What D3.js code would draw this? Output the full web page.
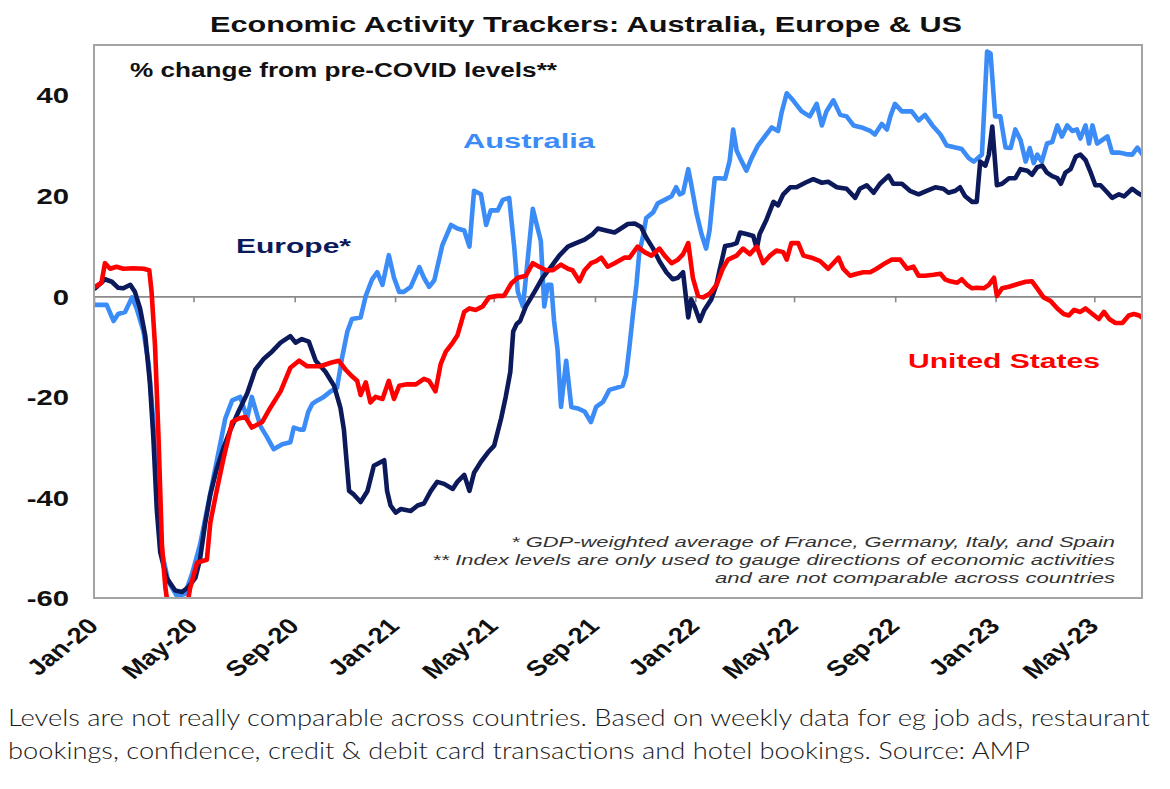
<!DOCTYPE html>
<html><head><meta charset="utf-8">
<script src="https://cdn.jsdelivr.net/npm/d3@7"></script>
<style>html,body{margin:0;padding:0;background:#fff;} svg{display:block;}</style>
</head><body>
<svg id="chart" width="1170" height="789"></svg>
<script>
// ---- DATA: [weeks since 1 Jan 2020, % change from pre-COVID level] ----
const australia = [[0.2,-1.7],[2.2,-1.7],[3.4,-4.9],[4.2,-3.5],[5.4,-3.1],[6.6,-0.2],[7.4,-2.4],[8.6,-7],[9.5,-13.5],[10.3,-25],[10.9,-38.7],[11.8,-50.9],[12.9,-56.7],[14.4,-59.6],[15.8,-59.2],[17,-55.3],[18.4,-49.5],[19.9,-40.9],[21.3,-32.9],[22.8,-24.3],[24,-20.7],[25.4,-20],[26.6,-24.3],[27.4,-20],[28.9,-25.8],[30,-27.9],[31.2,-30.4],[32.7,-29.4],[34.1,-29],[34.7,-26.1],[35.8,-26.5],[36.4,-26.5],[37.2,-23],[37.9,-21.4],[38.8,-20.7],[39.9,-20],[41.1,-18.9],[42.2,-18.2],[43.1,-12.1],[44,-7],[44.8,-4.5],[46.3,-4.2],[47.2,0.1],[48.3,3.4],[49.2,4.8],[50.1,2.3],[51.2,8.2],[52.1,3.7],[53,0.9],[53.8,0.9],[55,1.9],[56.5,5.8],[57.3,3.7],[58.2,1.9],[59.1,3.2],[60.5,10.2],[62,14.2],[63.1,13.5],[64.3,13.1],[65.2,9.9],[66,21],[67.2,20.3],[68.1,14.2],[68.9,17.1],[70.1,17.1],[71,19.2],[72.1,19.6],[73,9.5],[73.6,0.9],[74.5,-2],[76.2,17.4],[77.6,11],[78.2,-2],[78.8,2.3],[79.4,2.3],[79.9,-4.9],[80.5,-10.6],[81.1,-22],[82,-12.8],[82.9,-22],[84,-22.3],[85.2,-22.9],[86.3,-25],[87.2,-22],[88.4,-21],[89.5,-18.6],[90.7,-18.2],[91.8,-17.8],[92.4,-15.7],[93,-9.9],[93.6,-3.5],[94.2,2.3],[94.7,8.8],[95.3,11.7],[95.9,15.6],[97.1,16.7],[97.9,18.5],[99.1,19.2],[100.3,19.9],[101.1,21.7],[101.7,20.3],[102.3,20.6],[103.2,25.3],[103.7,22.4],[104.6,16.7],[105.5,12.4],[106.3,9.5],[106.9,13.1],[107.8,23.5],[108.7,23.5],[109.6,23.4],[110.4,27],[111,33.2],[111.6,29],[112.2,27.5],[113.3,25],[114.2,27.5],[115.3,30],[116.5,31.8],[117.7,33.6],[118.8,32.9],[119.4,36.5],[120.3,40.4],[121.4,39],[122.9,36.8],[124.3,35.8],[125.5,38.3],[126.4,34],[127.2,36.8],[128.4,39],[129.6,36.1],[130.7,35.8],[131.9,34],[133.3,33.6],[134.8,32.9],[135.6,32.2],[136.8,34.3],[137.7,33.2],[138.3,35.8],[139.1,38.3],[140.3,36.8],[142,36.8],[143.2,35],[144.3,36.1],[145.6,34],[147,32.2],[148.1,30],[149.6,29.6],[150.7,29.3],[151.9,27.5],[152.8,26.8],[154.2,28.2],[155.1,48.7],[155.7,48.3],[156.5,35.8],[157.4,35.8],[158.3,29.6],[159.2,29.5],[160,33.2],[160.9,31.1],[161.8,26.8],[162.5,29.5],[163.2,26.5],[163.8,28.2],[164.6,26.8],[165.5,30.4],[166.4,30.7],[167.3,34],[168.1,31.8],[169,34],[169.9,32.9],[170.7,33.2],[171.3,31.4],[172.2,34],[172.8,30.4],[173.4,34],[174.2,30.4],[175.1,31.1],[176,31.8],[176.8,28.6],[178,28.6],[179.2,28.3],[180.3,28.2],[181.2,29.6],[182.1,28.2]];

const europe = [[0.2,1.6],[1.9,3.4],[3.1,2.9],[4.2,1.7],[5.1,1.6],[6.3,2.3],[7.1,0.9],[8,-2.4],[8.9,-7.8],[9.7,-17.1],[10.3,-27.9],[10.9,-42.3],[11.5,-50.9],[12.6,-56],[14.1,-58.5],[15.3,-58.8],[16.4,-57.8],[17.6,-56],[18.4,-52.4],[19.3,-45.2],[20.2,-39.4],[21.3,-34.4],[22.5,-30.1],[23.7,-26.5],[25.1,-22.9],[26.6,-19.3],[28,-14.6],[29.5,-12.4],[30.9,-11],[32.4,-9.2],[34.1,-7.9],[35,-9.2],[36.1,-8.5],[37.3,-9],[38.5,-12.8],[40.2,-15],[41.7,-17.8],[42.8,-22.2],[43.4,-26.5],[44.3,-38.7],[45.1,-39.4],[46.3,-40.9],[47.5,-38.7],[48.6,-33.7],[50.4,-32.6],[50.9,-38.7],[51.5,-41.6],[52.4,-43],[53.3,-42.3],[55,-42.7],[56.2,-41.6],[57.3,-41.2],[58.5,-38.7],[59.6,-36.9],[60.8,-37.3],[62.3,-38.3],[63.1,-36.9],[64.3,-35.5],[65.2,-38.7],[66,-35.1],[67.2,-32.9],[68.6,-30.8],[69.5,-29.7],[70.7,-24.3],[71.5,-20],[72.3,-15],[72.8,-7],[73.4,-5.5],[74,-4.9],[75,-2],[76.5,0.9],[77.9,3.7],[79.4,5.9],[80.8,8.1],[82.3,9.9],[83.7,10.6],[85.2,11.3],[86.6,12.4],[87.5,13.5],[88.9,13.1],[90.4,12.7],[91.5,13.5],[92.7,14.4],[93.9,14.5],[95,13.8],[95.9,11.7],[97.1,9.5],[98.2,7],[99.4,4.8],[100.5,3.4],[101.4,3.7],[102.3,4.8],[103.2,-4.2],[103.7,-0.6],[104.3,-2],[105.2,-4.9],[106,-2.7],[107.2,-0.6],[108.1,2.3],[108.6,5],[109.6,10],[110.6,10.2],[111.6,10.6],[112.2,12.7],[113.3,12.4],[114.5,12],[115.1,9.5],[115.6,12.4],[116.8,15.3],[118,18.8],[118.8,18.1],[119.7,20.3],[120.9,21.7],[122,21.7],[123.5,22.6],[124.9,23.3],[126.4,22.6],[127.5,22.8],[129,21.7],[130.7,21.4],[132.2,19.6],[133,21.4],[134.2,22.1],[135.4,20.6],[136.5,22.4],[138,24],[138.8,22.4],[140.3,22.4],[141.7,21],[143.2,20.3],[144.6,21],[146.1,21.7],[147.5,21.4],[148.4,20.6],[149.6,21],[150.4,21.7],[151.3,19.9],[152.5,18.8],[153.3,18.8],[153.9,26.8],[154.8,26],[155.4,28.2],[156,33.8],[156.8,22.1],[157.7,22.4],[158.9,23.5],[160,23.5],[160.9,25.3],[162.1,25],[162.9,24.2],[163.8,25.7],[164.7,26],[165.5,24.6],[166.4,23.9],[167.3,23.5],[167.9,22.4],[168.7,24.6],[169.6,25.3],[170.5,27.8],[171.3,28.2],[172.2,27.1],[173.1,24.6],[173.9,22.1],[174.8,22.1],[175.7,21],[176.8,19.6],[178,20.3],[178.9,19.9],[180.3,21.4],[181.2,20.6],[182.1,20]];

const unitedStates = [[0.2,1.9],[1.3,2.7],[1.9,6.6],[2.8,5.5],[3.9,5.9],[5.1,5.5],[6.8,5.6],[8.6,5.5],[9.6,5.2],[10,0.9],[10.6,-9.9],[11.2,-27.9],[11.8,-49.5],[12.4,-58],[12.9,-62],[16.1,-62],[16.7,-58],[17.9,-53],[18.7,-52.7],[19.6,-52.4],[20.2,-45],[21.3,-38.7],[22.5,-32.2],[24,-25],[25.1,-24.3],[26.3,-24],[27.4,-26.1],[29.2,-25],[30.6,-22.2],[32.4,-18.9],[34.1,-14.2],[35.6,-12.8],[37,-13.9],[39.3,-13.9],[41.1,-13.2],[42.5,-12.8],[43.7,-14.6],[44.9,-16],[45.7,-16.8],[46.3,-19.6],[47.2,-17.1],[48,-21.1],[48.9,-20],[50.1,-20.4],[51.2,-16.8],[52.1,-20.4],[53,-17.8],[54.4,-17.5],[55.9,-17.5],[57.3,-16.4],[58.2,-16.8],[59.3,-18.9],[60.2,-13.5],[61.1,-11],[62.3,-9.2],[63.1,-7.8],[64.3,-3.1],[65.2,-2.4],[66.3,-2.7],[67.5,-2],[68.6,-0.2],[70.1,0.1],[71.2,0.1],[72.5,2.6],[73.6,3.7],[75,4.1],[76.2,6.6],[77.3,5.9],[78.5,5.2],[79.7,5.2],[81.1,6.3],[82.3,5.5],[83.1,5.2],[84.3,3],[85.2,5.2],[86.3,6.6],[87.2,7],[88.1,7.7],[89.2,5.9],[90.4,6.6],[92.1,7.7],[93,7.7],[94.4,9.9],[95.6,8.8],[96.8,8.1],[98.2,9.5],[99.1,8.1],[100.3,6.6],[101.4,7.3],[102.3,8.4],[103.2,10.6],[104,3.7],[104.9,0.1],[105.8,-0.2],[106.9,0.5],[108.1,2.3],[109.2,5.5],[110.1,7.3],[111.6,8.1],[112.7,9.5],[113.9,8.4],[115.1,9.9],[116.2,6.6],[117.4,8.1],[118.5,9.1],[119.7,8.8],[120.3,7.3],[121.1,10.6],[122.3,10.6],[123.2,8.1],[124.6,7.7],[126.1,7],[127.5,5.5],[129.3,7.7],[130.1,5.5],[131.3,4.1],[132.5,4.5],[133.6,4.8],[134.8,4.8],[135.9,5.5],[137.4,6.6],[138.5,7.3],[140,7.3],[141.2,5.5],[142.3,5.9],[143.2,4.1],[144.3,4.1],[145.8,4.3],[147,4.5],[147.8,3.4],[148.7,3],[149.9,2.7],[150.7,3.4],[151.6,2.3],[152.5,1.6],[153.3,1.7],[154.5,1.6],[155.4,2.3],[156.3,3.7],[156.8,0.1],[157.7,1.6],[158.9,1.9],[160.3,2.4],[161.8,2.9],[162.9,3],[163.8,1.6],[164.9,-0.2],[166.1,-0.9],[167.3,-2.4],[168.4,-3.5],[169.3,-3.8],[170.2,-2.7],[171.3,-3.1],[172.2,-2.4],[173.4,-3.5],[174.5,-4.5],[175.4,-3.1],[176.3,-4.5],[177.4,-5.3],[178.6,-5.3],[179.7,-3.8],[180.6,-3.5],[181.5,-3.8],[182.1,-4.3]];

const yTickValues = [-60, -40, -20, 0, 20, 40];
const xTickLabels = ["Jan-20","May-20","Sep-20","Jan-21","May-21","Sep-21","Jan-22","May-22","Sep-22","Jan-23","May-23"];
const titleText = "Economic Activity Trackers: Australia, Europe & US";
const subtitleText = "% change from pre-COVID levels**";
const footnotes = ["* GDP-weighted average of France, Germany, Italy, and Spain",
                   "** Index levels are only used to gauge directions of economic activities",
                   "and are not comparable across countries"];
const captionLines = ["Levels are not really comparable across countries. Based on weekly data for eg job ads, restaurant",
                      "bookings, confidence, credit & debit card transactions and hotel bookings. Source: AMP"];

// ---- CHART ----
const svg = d3.select("#chart");
const P = {left: 94, right: 1142, top: 45, bottom: 598};
const FONT = "'Liberation Sans', Arial, sans-serif";
const start = new Date(2020, 0, 1);
const weekToDate = w => new Date(start.getTime() + w * 7 * 864e5);
const x = d3.scaleTime().domain([start, new Date(2023, 5, 28)]).range([P.left, P.right]);
const y = d3.scaleLinear().domain([-60, 50]).range([P.bottom, P.top]);
const xTickDates = xTickLabels.map(d3.timeParse("%b-%y"));

svg.append("rect").attr("width", 1170).attr("height", 789).attr("fill", "#fff");

svg.append("defs").append("clipPath").attr("id", "plotclip")
  .append("rect").attr("x", P.left).attr("y", P.top)
  .attr("width", P.right - P.left).attr("height", P.bottom - P.top);

// zero axis with ticks
const gx = svg.append("g").attr("transform", `translate(0,${y(0)})`)
  .call(d3.axisBottom(x).tickValues(xTickDates).tickSize(6).tickSizeOuter(0).tickFormat(""));
gx.select(".domain").attr("stroke", "#8a8a8a").attr("stroke-width", 1.6);
gx.selectAll(".tick line").attr("stroke", "#8a8a8a").attr("stroke-width", 1.6);

// x labels (rotated)
svg.append("g").selectAll("text").data(xTickDates).join("text")
  .attr("transform", d => `translate(${x(d) - 1},622) scale(1.25,1) rotate(-45)`)
  .attr("text-anchor", "end").attr("dy", "0.35em")
  .style("font-family", FONT).style("font-weight", "bold").style("font-size", "22px")
  .attr("fill", "#111")
  .text((d, i) => xTickLabels[i]);

// y labels
const gy = svg.append("g").attr("transform", `translate(${P.left},0)`)
  .call(d3.axisLeft(y).tickValues(yTickValues).tickSize(0).tickFormat(d => String(d)));
gy.select(".domain").remove();
gy.selectAll(".tick text")
  .attr("x", null).attr("dy", "0.35em")
  .attr("transform", `translate(-25,0) scale(1.33,1)`)
  .style("font-family", FONT).style("font-weight", "bold").style("font-size", "22px")
  .attr("fill", "#111");

// lines
const line = d3.line().x(d => x(weekToDate(d[0]))).y(d => y(d[1]));
const series = [
  {data: australia, color: "#3b8cf6"},
  {data: europe, color: "#0c1a5b"},
  {data: unitedStates, color: "#ff0000"}
];
svg.append("g").attr("clip-path", "url(#plotclip)")
  .selectAll("path").data(series).join("path")
  .attr("d", d => line(d.data))
  .attr("fill", "none").attr("stroke", d => d.color)
  .attr("stroke-width", 4.6).attr("stroke-linejoin", "round").attr("stroke-linecap", "round");

// plot border
svg.append("rect").attr("x", P.left).attr("y", P.top)
  .attr("width", P.right - P.left).attr("height", P.bottom - P.top)
  .attr("fill", "none").attr("stroke", "#a3a3a3").attr("stroke-width", 2);

// texts
function txt(s, xPos, yPos, w, opts) {
  return svg.append("text").attr("x", xPos).attr("y", yPos)
    .attr("textLength", w).attr("lengthAdjust", "spacingAndGlyphs")
    .style("font-family", opts.family || FONT)
    .style("font-weight", opts.weight || "bold")
    .style("font-style", opts.style || "normal")
    .style("font-size", opts.size + "px")
    .attr("fill", opts.fill || "#111")
    .text(s);
}
txt(titleText, 210, 32, 752, {size: 22});
txt(subtitleText, 130, 77, 427, {size: 20});
txt("Australia", 463, 148, 132, {size: 21, fill: "#3b8cf6"});
txt("Europe*", 236, 253, 115, {size: 20, fill: "#0c1a5b"});
txt("United States", 908, 368, 192, {size: 20, fill: "#ff0000"});

const fnLeft = [511, 432, 715];
const fnBase = [547, 565, 583];
footnotes.forEach((s, i) => txt(s, fnLeft[i], fnBase[i], 1115 - fnLeft[i],
  {size: 15, weight: "normal", style: "italic", fill: "#333"}));

const capBase = [726, 759];
const capWidth = [1142, 1022];
captionLines.forEach((s, i) => txt(s, 8, capBase[i], capWidth[i],
  {size: 24, weight: 300, family: "Lato, 'Open Sans', sans-serif", fill: "#1a1a1a"}));
</script>
</body></html>
